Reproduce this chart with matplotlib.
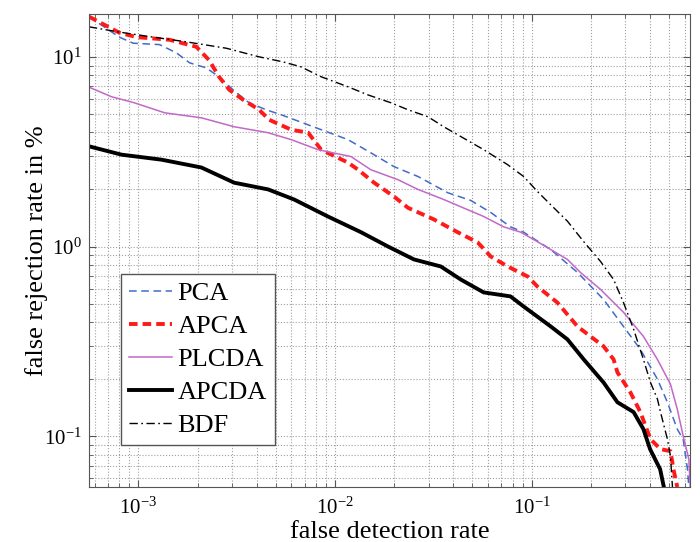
import matplotlib
matplotlib.use("Agg")
import matplotlib.pyplot as plt
import numpy as np

plt.rcParams.update({
    'font.family': 'Liberation Serif',
    'mathtext.fontset': 'custom',
    'mathtext.rm': 'Liberation Serif',
    'mathtext.it': 'Liberation Serif:italic',
    'font.size': 19,
})

# false detection rate / false rejection rate (%)
pca_x = [5.6e-4, 8.0e-4, 9.4e-4, 1.28e-3, 1.56e-3, 1.82e-3, 2.21e-3, 2.57e-3, 3.03e-3, 3.65e-3,
         4.46e-3, 5.32e-3, 8.5e-3, 0.01164, 0.0152, 0.0199, 0.0264, 0.0375, 0.049, 0.062,
         0.078, 0.091, 0.125, 0.171, 0.232, 0.293, 0.357, 0.436, 0.49, 0.55, 0.59, 0.62, 0.63]
pca_y = [16.3, 12.7, 11.8, 11.6, 10.5, 9.3, 8.75, 7.85, 6.7, 5.73,
         5.26, 4.95, 4.13, 3.66, 3.12, 2.64, 2.34, 1.92, 1.75, 1.51,
         1.27, 1.19, 0.964, 0.73, 0.526, 0.379, 0.287, 0.2, 0.151, 0.109, 0.096, 0.067, 0.054]

apca_x = [5.6e-4, 8.0e-4, 9.8e-4, 1.44e-3, 1.97e-3, 2.29e-3, 2.57e-3, 2.9e-3, 3.41e-3, 4.11e-3,
          4.62e-3, 5.98e-3, 7.3e-3, 8.5e-3, 0.01164, 0.0131, 0.0158, 0.020, 0.0235, 0.0318,
          0.042, 0.0532, 0.062, 0.0755, 0.0955, 0.107, 0.135, 0.171, 0.199, 0.232,
          0.261, 0.273, 0.318, 0.357, 0.402, 0.452, 0.508, 0.526, 0.55]
apca_y = [16.3, 13.4, 12.7, 12.3, 11.3, 9.6, 7.85, 6.7, 5.94, 5.26,
          4.66, 4.13, 3.98, 3.24, 2.77, 2.54, 2.17, 1.83, 1.60, 1.39,
          1.19, 1.05, 0.885, 0.785, 0.695, 0.615, 0.507, 0.379, 0.336, 0.298,
          0.254, 0.217, 0.17, 0.134, 0.0965, 0.0855, 0.0834, 0.067, 0.054]

plcda_x = [5.7e-4, 7.3e-4, 9.5e-4, 1.36e-3, 2.09e-3, 3.07e-3, 4.57e-3, 5.98e-3, 8.2e-3, 0.01205,
           0.0152, 0.0209, 0.0264, 0.0357, 0.0436, 0.057, 0.072, 0.088, 0.107, 0.125,
           0.152, 0.177, 0.224, 0.293, 0.37, 0.436, 0.508, 0.55, 0.59, 0.63, 0.64]
plcda_y = [6.87, 6.16, 5.73, 5.07, 4.77, 4.28, 3.98, 3.66, 3.24, 2.98,
           2.54, 2.25, 2.0, 1.77, 1.62, 1.44, 1.27, 1.19, 1.06, 0.964,
           0.855, 0.73, 0.594, 0.45, 0.336, 0.254, 0.188, 0.139, 0.1, 0.0757, 0.054]

apcda_x = [5.7e-4, 8.2e-4, 1.31e-3, 2.09e-3, 3.07e-3, 4.57e-3, 6.19e-3, 9.2e-3, 0.01355, 0.0186,
           0.0252, 0.0345, 0.0436, 0.057, 0.078, 0.091, 0.125, 0.152, 0.184, 0.232,
           0.273, 0.33, 0.37, 0.40, 0.45, 0.47]
apcda_y = [3.36, 3.05, 2.87, 2.61, 2.17, 2.0, 1.77, 1.44, 1.19, 1.0,
           0.855, 0.785, 0.67, 0.573, 0.546, 0.483, 0.379, 0.324, 0.254, 0.192,
           0.151, 0.134, 0.109, 0.0855, 0.067, 0.054]

bdf_x = [5.6e-4, 8.0e-4, 1.19e-3, 1.75e-3, 2.8e-3, 4.11e-3, 5.45e-3, 6.7e-3, 8.5e-3, 0.01164,
         0.0147, 0.0192, 0.0235, 0.0297, 0.0357, 0.0436, 0.057, 0.0755, 0.091, 0.107,
         0.125, 0.152, 0.184, 0.224, 0.261, 0.293, 0.33, 0.37, 0.402, 0.436,
         0.452, 0.49, 0.508, 0.52]
bdf_y = [14.4, 13.5, 12.7, 12.0, 11.1, 10.0, 9.4, 8.86, 7.85, 6.95,
         6.3, 5.73, 5.26, 4.83, 4.28, 3.8, 3.24, 2.7, 2.34, 1.95,
         1.66, 1.36, 1.06, 0.834, 0.67, 0.507, 0.366, 0.254, 0.192, 0.157,
         0.134, 0.0965, 0.0785, 0.054]

fig = plt.figure(figsize=(7, 5.42), dpi=100)
ax = fig.add_axes([0.127, 0.1015, 0.859, 0.8725])

ax.plot(pca_x, pca_y, color='#3f6cc8', lw=1.1, ls=(0, (5, 3)), label='PCA')
ax.plot(apca_x, apca_y, color='#ff1a1a', lw=2.8, ls=(0, (2.2, 1.3)), label='APCA')
ax.plot(plcda_x, plcda_y, color='#c268c8', lw=1.1, label='PLCDA')
ax.plot(apcda_x, apcda_y, color='black', lw=2.8, label='APCDA')
ax.plot(bdf_x, bdf_y, color='black', lw=1.0, ls=(0, (6, 2.5, 1.2, 2.5)), label='BDF')

ax.set_xscale('log')
ax.set_yscale('log')
ax.set_xlim(5.6e-4, 0.64)
ax.set_ylim(0.054, 16.8)

ax.grid(which='both', ls=':', color='#a0a0a0', lw=0.8)
ax.tick_params(which='both', direction='in', top=True, right=True, color='#555555', labelsize=15)
ax.tick_params(which='major', length=5)
ax.tick_params(which='minor', length=3)
ax.tick_params(axis='x', which='major', pad=8)
ax.tick_params(axis='y', which='major', pad=5)
for sp in ax.spines.values():
    sp.set_color('#555555')

ax.set_xlabel('false detection rate', labelpad=1)
ax.set_ylabel('false rejection rate in %', labelpad=-3)

leg = ax.legend(loc='lower left', bbox_to_anchor=(0.053, 0.089), borderaxespad=0,
                fancybox=False, edgecolor='#555555', framealpha=1,
                handlelength=1.65, handletextpad=0.2, labelspacing=0.36,
                borderpad=0.3, fontsize=19)
leg.get_frame().set_linewidth(1.0)

fig.savefig('out.png', dpi=100)
